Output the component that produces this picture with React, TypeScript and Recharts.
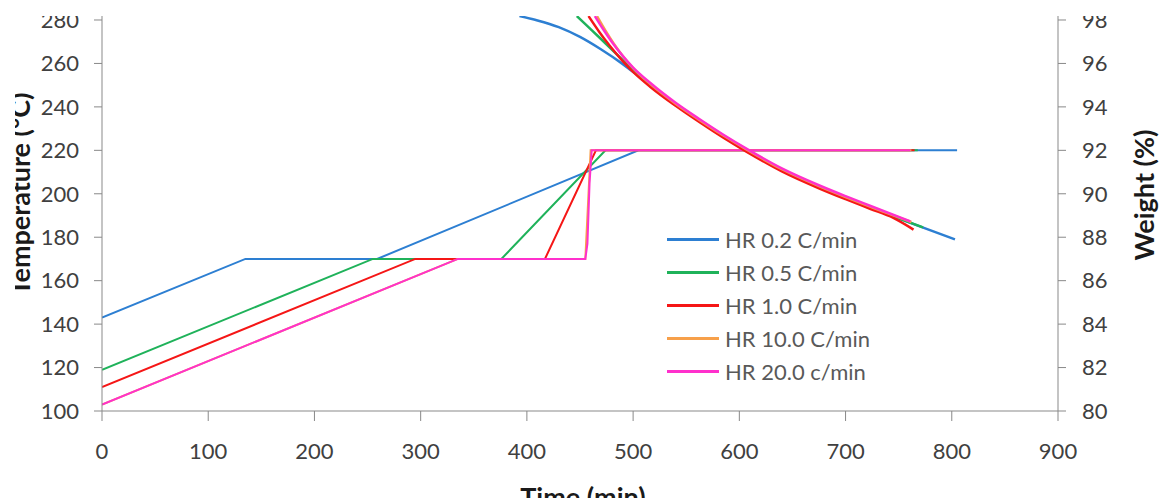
import { LineChart, Line, XAxis, YAxis, Legend, Label } from "recharts"

// temperature programs, [time (min), °C]
const blueTemp = [[0, 143], [135, 170], [259, 170], [505, 220], [805, 220]]
const greenTemp = [[0, 119], [255, 170], [376, 170], [474, 220], [768, 220]]
const redTemp = [[0, 111], [295, 170], [417, 170], [465, 220], [765, 220]]
const orangeTemp = [[0, 103], [335, 170], [455, 170], [460, 220], [762, 220]]
const pinkTemp = [[0, 103], [335, 170], [455, 170], [457, 177], [459, 205], [461, 220], [761, 220]]

// weight curves, [time (min), %]
const blueWeight = [
  [393, 98.18], [410, 97.98], [430, 97.67], [450, 97.22], [470, 96.64], [490, 95.98],
  [505, 95.42], [516, 95.0], [540, 94.12], [563, 93.35], [585, 92.65], [607, 92.0],
  [640, 91.1], [676, 90.3], [700, 89.82], [723, 89.38], [761, 88.66], [803, 87.9],
]
const greenWeight = [
  [447, 98.18], [458, 97.67], [469, 97.16], [480, 96.64], [490, 96.16], [500, 95.68],
  [516, 95.0], [540, 94.12], [563, 93.35], [585, 92.65], [607, 92.0], [640, 91.1],
  [676, 90.3], [700, 89.82], [723, 89.38], [750, 88.87], [773, 88.45],
]
const redWeight = [
  [458, 98.18], [468, 97.46], [478, 96.81], [490, 96.12], [500, 95.61], [516, 94.93],
  [540, 94.05], [563, 93.28], [585, 92.58], [607, 91.93], [640, 91.03], [676, 90.23],
  [700, 89.75], [723, 89.31], [745, 88.89], [764, 88.35],
]
const orangeWeight = [
  [466, 98.18], [474, 97.51], [482, 96.9], [491, 96.3], [500, 95.78], [516, 95.06],
  [540, 94.15], [563, 93.38], [585, 92.68], [607, 92.03], [640, 91.13], [676, 90.33],
  [700, 89.85], [723, 89.41], [762, 88.7],
]
const pinkWeight = [
  [464, 98.18], [472, 97.56], [480, 96.99], [490, 96.36], [500, 95.81], [516, 95.11],
  [540, 94.19], [563, 93.42], [585, 92.72], [607, 92.07], [640, 91.17], [676, 90.37],
  [700, 89.89], [723, 89.45], [761, 88.73],
]

const seriesNames = ["HR 0.2 C/min", "HR 0.5 C/min", "HR 1.0 C/min", "HR 10.0 C/min", "HR 20.0 c/min"]
const seriesColors = ["#2D7FD2", "#1FB25A", "#F51616", "#F7A04A", "#FF30CC"]
const tempSets = [blueTemp, greenTemp, redTemp, orangeTemp, pinkTemp]
const weightSets = [blueWeight, greenWeight, redWeight, orangeWeight, pinkWeight]

const timeTicks = [0, 100, 200, 300, 400, 500, 600, 700, 800, 900]
const tempTicks = [100, 120, 140, 160, 180, 200, 220, 240, 260, 280]
const weightTicks = [80, 82, 84, 86, 88, 90, 92, 94, 96, 98]

const toPoints = (rows: number[][]) => rows.map(([t, v]) => ({ t, v }))

const FONT = "Lato, 'Noto Sans', sans-serif"
const AXIS = "#898989"
const tickStyle = { fill: "#404040", fontSize: 22, fontFamily: FONT }

const renderLegend = () => (
  <div style={{ fontFamily: FONT }}>
    {seriesNames.map((name, i) => (
      <div key={name} style={{ display: "flex", alignItems: "center", height: 33 }}>
        <div style={{ width: 52, height: 2.5, background: seriesColors[i], marginRight: 6 }} />
        <span style={{ fontSize: 22, color: "#595959", whiteSpace: "nowrap" }}>{name}</span>
      </div>
    ))}
  </div>
)

const titleProps = { fill: "#1a1a1a", fontSize: 27, fontWeight: 700, fontFamily: FONT }

export default function App() {
  return (
    <div style={{ position: "absolute", left: 15, top: 16, width: 1151, height: 482, overflow: "hidden", background: "#fff" }}>
      <div style={{ position: "absolute", left: -15, top: -16 }}>
        <LineChart width={1166} height={512} margin={{ top: 16, right: 0, left: 32, bottom: 0 }}>
          <XAxis
            dataKey="t"
            type="number"
            domain={[0, 900]}
            ticks={timeTicks}
            height={101}
            stroke={AXIS}
            tickSize={10}
            tickMargin={22}
            tick={tickStyle}
            allowDataOverflow
          >
            <Label
              content={() => (
                <text x={583} y={507} textAnchor="middle" {...titleProps}>Time (min)</text>
              )}
            />
          </XAxis>
          <YAxis
            yAxisId="T"
            type="number"
            domain={[100, 281.84]}
            ticks={tempTicks}
            width={70}
            stroke={AXIS}
            tickSize={8}
            tickMargin={15}
            tick={tickStyle}
            allowDataOverflow
          >
            <Label
              content={() => (
                <text transform="translate(19, 194) rotate(-90)" textAnchor="middle" dominantBaseline="central" {...titleProps}>
                  Temperature (°C)
                </text>
              )}
            />
          </YAxis>
          <YAxis
            yAxisId="W"
            orientation="right"
            type="number"
            domain={[80, 98.184]}
            ticks={weightTicks}
            width={108}
            stroke={AXIS}
            tickSize={8}
            tickMargin={16}
            tick={tickStyle}
            allowDataOverflow
          >
            <Label
              content={() => (
                <text transform="translate(1143, 195) rotate(-90)" textAnchor="middle" dominantBaseline="central" {...titleProps}>
                  Weight (%)
                </text>
              )}
            />
          </YAxis>
          <Legend
            layout="vertical"
            align="center"
            verticalAlign="middle"
            content={renderLegend}
            wrapperStyle={{ left: 667, top: 223, width: 220, height: 170 }}
          />
          {tempSets.map((rows, i) => (
            <Line
              key={"T" + i}
              yAxisId="T"
              data={toPoints(rows)}
              dataKey="v"
              name={seriesNames[i]}
              type="linear"
              stroke={seriesColors[i]}
              strokeWidth={2}
              dot={false}
              activeDot={false}
              isAnimationActive={false}
            />
          ))}
          {weightSets.map((rows, i) => (
            <Line
              key={"W" + i}
              yAxisId="W"
              data={toPoints(rows)}
              dataKey="v"
              name={seriesNames[i] + " weight"}
              legendType="none"
              type="monotone"
              stroke={seriesColors[i]}
              strokeWidth={2.5}
              dot={false}
              activeDot={false}
              isAnimationActive={false}
            />
          ))}
        </LineChart>
      </div>
    </div>
  )
}
